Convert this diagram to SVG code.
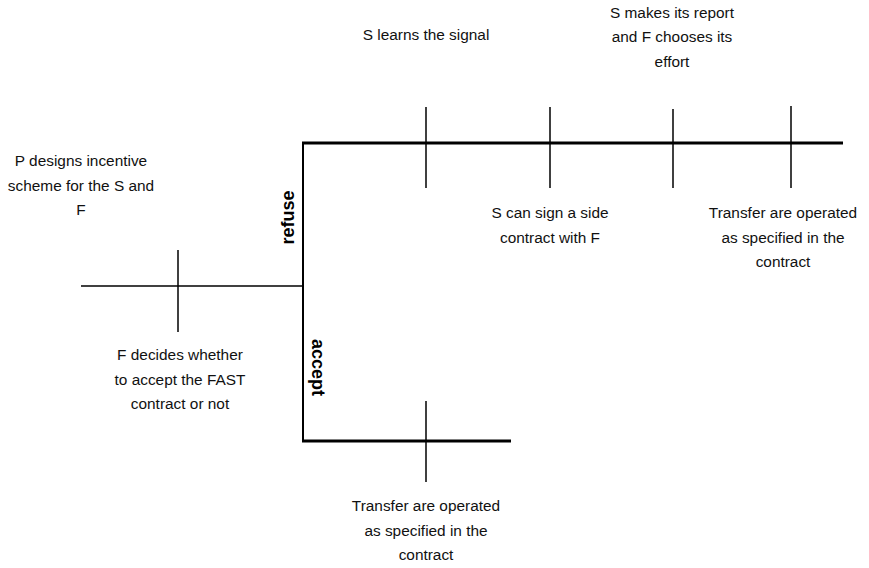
<svg xmlns="http://www.w3.org/2000/svg" width="869" height="568" viewBox="0 0 869 568">
<style>
.t{font-family:"Liberation Sans",Arial,sans-serif;font-size:15.4px;fill:#111;text-anchor:middle}
.b{font-family:"Liberation Sans",Arial,sans-serif;font-size:18px;font-weight:bold;fill:#000;text-anchor:middle}
.tick{stroke:#000;stroke-width:1.5;fill:none}
.thin{stroke:#404040;stroke-width:2;fill:none}
.thick{stroke:#000;stroke-width:3;fill:none}
.vert{stroke:#000;stroke-width:2;fill:none}
</style>
<rect width="869" height="568" fill="#fff"/>
<g id="connectors">
<line class="thin" x1="81" y1="286" x2="303" y2="286"/>
<line class="vert" x1="303" y1="142" x2="303" y2="442"/>
<line class="thick" x1="302" y1="143" x2="843" y2="143"/>
<line class="thick" x1="302" y1="441" x2="511" y2="441"/>
<text class="b" transform="translate(293.5,217.5) rotate(-90)">refuse</text>
<text class="b" transform="translate(312,367.5) rotate(90)">accept</text>
</g>
<g id="node-p-designs">
<text class="t" x="81" y="166">P designs incentive</text>
<text class="t" x="81" y="190.5">scheme for the S and</text>
<text class="t" x="81" y="215">F</text>
</g>
<g id="node-f-decides">
<line class="tick" x1="178" y1="250" x2="178" y2="332"/>
<text class="t" x="180" y="360">F decides whether</text>
<text class="t" x="180" y="384.5">to accept the FAST</text>
<text class="t" x="180" y="409">contract or not</text>
</g>
<g id="node-s-learns">
<line class="tick" x1="426" y1="107" x2="426" y2="188"/>
<text class="t" x="426" y="40">S learns the signal</text>
</g>
<g id="node-side-contract">
<line class="tick" x1="550" y1="107" x2="550" y2="188"/>
<text class="t" x="550" y="218">S can sign a side</text>
<text class="t" x="550" y="242.5">contract with F</text>
</g>
<g id="node-report">
<line class="tick" x1="673" y1="109" x2="673" y2="188"/>
<text class="t" x="672" y="17.5">S makes its report</text>
<text class="t" x="672" y="42">and F chooses its</text>
<text class="t" x="672" y="66.5">effort</text>
</g>
<g id="node-transfer-top">
<line class="tick" x1="791" y1="106" x2="791" y2="188"/>
<text class="t" x="783" y="218">Transfer are operated</text>
<text class="t" x="783" y="242.5">as specified in the</text>
<text class="t" x="783" y="267">contract</text>
</g>
<g id="node-transfer-bottom">
<line class="tick" x1="426" y1="401" x2="426" y2="482"/>
<text class="t" x="426" y="511">Transfer are operated</text>
<text class="t" x="426" y="535.5">as specified in the</text>
<text class="t" x="426" y="560">contract</text>
</g>
</svg>
